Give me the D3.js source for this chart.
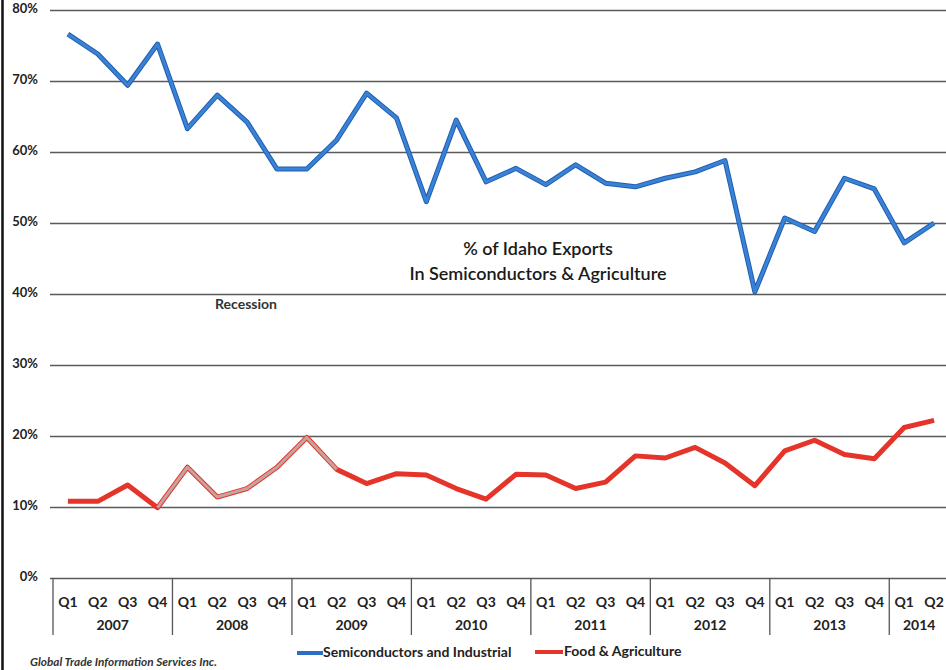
<!DOCTYPE html>
<html><head><meta charset="utf-8">
<script src="https://cdn.jsdelivr.net/npm/d3@7/dist/d3.min.js"></script>
<style>body{margin:0;background:#fff}svg{display:block}</style>
</head><body>
<svg id="c" width="946" height="670"></svg>
<script>
const years = ["2007","2008","2009","2010","2011","2012","2013","2014"];
const quarterLabels = ["Q1","Q2","Q3","Q4"];
const quartersPerYear = [4,4,4,4,4,4,4,2];
const semi = [76.6,73.8,69.4,75.2,63.3,68.0,64.2,57.6,57.6,61.7,68.3,64.8,53.0,64.5,55.8,57.7,55.4,58.2,55.6,55.1,56.3,57.2,58.8,40.3,50.7,48.8,56.3,54.8,47.2,50.0];
const food = [10.8,10.8,13.1,9.9,15.6,11.4,12.6,15.6,19.8,15.3,13.3,14.7,14.5,12.6,11.1,14.6,14.5,12.6,13.5,17.2,16.9,18.4,16.2,13.0,17.9,19.4,17.4,16.8,21.2,22.2];
const yTicks = [0,10,20,30,40,50,60,70,80];
const recession = {from: 3, to: 9, label: "Recession"};
const title = ["% of Idaho Exports", "In Semiconductors & Agriculture"];
const seriesNames = ["Semiconductors and Industrial", "Food & Agriculture"];

const cats = [];
years.forEach((y,i)=>{ for(let q=0;q<quartersPerYear[i];q++) cats.push({year:y, q:quarterLabels[q], key:y+quarterLabels[q]}); });

const svg = d3.select("#c");
const font = "Lato, 'Open Sans', sans-serif";
const x = d3.scaleBand().domain(cats.map(d=>d.key)).range([53, 949]).padding(0);
const y = d3.scaleLinear().domain([0,80]).range([578, 10]);
const cx = i => x(cats[i].key) + x.bandwidth()/2;

// left border
svg.append("line").attr("x1",2.5).attr("x2",2.5).attr("y1",0).attr("y2",670).attr("stroke","#111").attr("stroke-width",2.5);

// grid
const yAxis = d3.axisLeft(y).tickValues(yTicks).tickSize(-(946-50)).tickFormat(d=>d+"%");
const ga = svg.append("g").attr("transform","translate(50,0)").call(yAxis);
ga.select(".domain").remove();
ga.selectAll(".tick line").attr("stroke","#5a5a5a").attr("stroke-width",1.4);
ga.selectAll(".tick text").attr("x",-12).attr("dy","0.2em").attr("font-family",font).attr("font-weight","bold").attr("font-size",13).attr("fill","#222");

// category axis
const gx = svg.append("g").attr("transform","translate(0,578)");
gx.append("g").call(d3.axisBottom(x).tickSize(0).tickFormat((k,i)=>cats[i].q))
  .call(g=>g.select(".domain").remove())
  .selectAll("text").attr("y",19).attr("font-family",font).attr("font-weight","bold").attr("font-size",14).attr("fill","#222");
let idx = 0;
const bounds = [0];
quartersPerYear.forEach(n=>{ idx+=n; bounds.push(idx); });
bounds.forEach((b,i)=>{
  if (b>=cats.length) return;
  const xx = x(cats[b].key);
  gx.append("line").attr("x1",xx).attr("x2",xx).attr("y1",0).attr("y2",57).attr("stroke","#555").attr("stroke-width",1.3);
});
years.forEach((yr,i)=>{
  const a = x(cats[bounds[i]].key), b = bounds[i+1] < cats.length ? x(cats[bounds[i+1]].key) : 949;
  gx.append("text").attr("x",(a+b)/2).attr("y",52).attr("text-anchor","middle").attr("font-family",font).attr("font-weight","bold").attr("font-size",14).attr("fill","#222").text(yr);
});

// lines
const line = d3.line().x((d,i)=>cx(i)).y(d=>y(d));
svg.append("path").datum(semi).attr("d",line).attr("fill","none").attr("stroke","#1f5fb0").attr("stroke-width",5).attr("stroke-linejoin","round");
svg.append("path").datum(semi).attr("d",line).attr("fill","none").attr("stroke","#3a82d6").attr("stroke-width",3).attr("stroke-linejoin","round");
svg.append("path").datum(food).attr("d",line).attr("fill","none").attr("stroke","#e5342a").attr("stroke-width",5).attr("stroke-linejoin","round");
const recLine = d3.line().x(d=>cx(d.i)).y(d=>y(d.v));
const recData = food.map((v,i)=>({v,i})).filter(d=>d.i>=recession.from && d.i<=recession.to);
svg.append("path").datum(recData).attr("d",recLine).attr("fill","none").attr("stroke","#c6a29f").attr("stroke-width",3).attr("stroke-linejoin","round");

// texts
svg.append("text").attr("x",246).attr("y",309).attr("text-anchor","middle").attr("font-family",font).attr("font-weight","bold").attr("font-size",14).attr("fill","#333").text(recession.label);
title.forEach((t,i)=>svg.append("text").attr("x",538).attr("y",255+i*25).attr("text-anchor","middle").attr("font-family",font).attr("font-weight","600").attr("font-size",18).attr("fill","#1a1a1a").text(t));

// legend
const lg = svg.append("g");
lg.append("line").attr("x1",297).attr("x2",323).attr("y1",653).attr("y2",653).attr("stroke","#2a6fc4").attr("stroke-width",4);
lg.append("text").attr("x",323).attr("y",657).attr("font-family",font).attr("font-weight","bold").attr("font-size",14).attr("fill","#222").text(seriesNames[0]);
lg.append("line").attr("x1",535).attr("x2",563).attr("y1",652).attr("y2",652).attr("stroke","#e5342a").attr("stroke-width",4);
lg.append("text").attr("x",564).attr("y",656).attr("font-family",font).attr("font-weight","bold").attr("font-size",14).attr("fill","#222").text(seriesNames[1]);

svg.append("text").attr("x",30).attr("y",666).attr("font-family",font).attr("font-style","italic").attr("font-weight","bold").attr("font-size",11).attr("textLength",187).attr("lengthAdjust","spacingAndGlyphs").attr("fill","#333").text("Global Trade Information Services Inc.");
</script>
</body></html>
